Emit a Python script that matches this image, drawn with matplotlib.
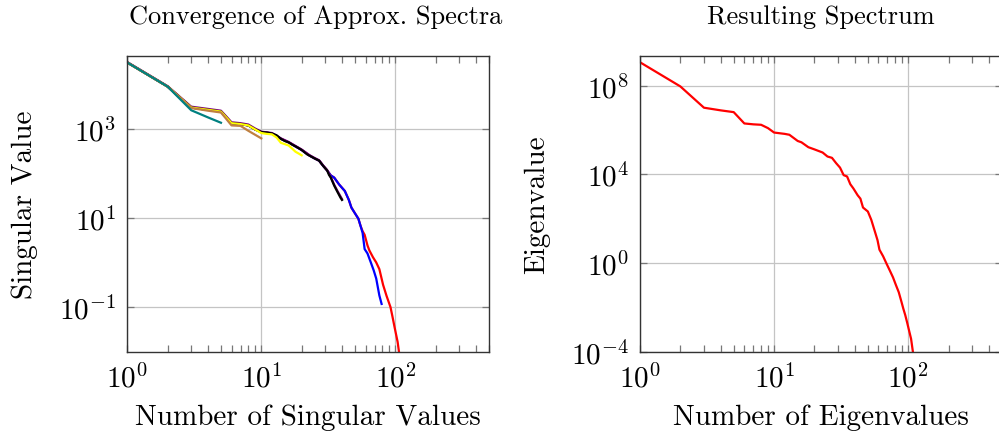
import matplotlib
matplotlib.use('Agg')
import matplotlib.pyplot as plt
from matplotlib.ticker import LogLocator, NullLocator, NullFormatter

# values, stored as log10 of the value
# left: approximate singular value spectra (index n, log10 sigma)
teal_n = [1, 2, 3, 4, 5]
teal_log = [4.48, 3.94, 3.41, 3.25, 3.13]

brown_n = [1, 2, 3, 4, 5, 6, 7, 8, 9, 10]
brown_log = [4.48, 3.94, 3.46, 3.40, 3.36, 3.07, 3.06, 2.95, 2.86, 2.78]

yellow_n = [1, 2, 3, 4, 5, 6, 7, 8, 9, 10, 11, 12, 13, 14, 15, 16, 17, 18, 19, 20]
yellow_log = [4.48, 3.94, 3.47, 3.42, 3.38, 3.12, 3.10, 3.07, 2.98, 2.90,
              2.88, 2.87, 2.80, 2.68, 2.65, 2.62, 2.55, 2.48, 2.44, 2.40]

black_n = [1, 2, 3, 4, 5, 6, 7, 8, 9, 10, 11, 12, 13, 14, 15, 16, 17, 18, 19, 20,
           22, 23, 25, 27, 29, 31, 32, 33, 35, 37, 39, 40]
black_log = [4.48, 3.94, 3.47, 3.42, 3.38, 3.12, 3.10, 3.07, 2.98, 2.92,
             2.91, 2.89, 2.85, 2.77, 2.72, 2.69, 2.64, 2.60, 2.56, 2.52,
             2.42, 2.39, 2.33, 2.28, 2.16, 2.06, 1.96, 1.90, 1.72, 1.58, 1.45, 1.40]

violet_n = [1, 2, 3, 4, 5, 6, 7, 8, 9, 10, 12, 14, 16, 18, 20, 23, 25, 27, 29, 31, 33, 35, 37, 40]
violet_log = [4.49, 3.95, 3.49, 3.44, 3.40, 3.14, 3.12, 3.09, 3.00, 2.93,
              2.90, 2.78, 2.70, 2.61, 2.53, 2.40, 2.34, 2.29, 2.17, 2.07, 1.91, 1.74, 1.60, 1.42]

blue_n = [1, 2, 3, 4, 5, 6, 7, 8, 9, 10, 12, 14, 16, 18, 20, 23, 25, 27, 29, 31, 33,
          35, 38, 42, 45, 47, 50, 53, 55, 57, 59, 62, 66, 69, 72, 76, 79]
blue_log = [4.48, 3.94, 3.47, 3.42, 3.38, 3.12, 3.10, 3.07, 2.98, 2.92,
            2.89, 2.77, 2.69, 2.60, 2.52, 2.39, 2.33, 2.28, 2.16, 2.06, 1.95,
            1.90, 1.75, 1.60, 1.40, 1.23, 1.10, 0.98, 0.82, 0.66, 0.30, 0.20, -0.02,
            -0.18, -0.36, -0.74, -0.93]

red_sv_n = [1, 2, 3, 4, 5, 6, 7, 8, 9, 10, 12, 14, 16, 18, 20, 23, 25, 27, 29, 31, 33,
            35, 38, 42, 45, 47, 50, 53, 55, 57, 59, 62, 64, 68, 72, 76, 81, 86, 92,
            95, 99, 104, 107, 112]
red_sv_log = [4.48, 3.94, 3.47, 3.42, 3.38, 3.12, 3.10, 3.07, 2.98, 2.92,
              2.89, 2.77, 2.69, 2.60, 2.52, 2.39, 2.33, 2.28, 2.16, 2.06, 1.95,
              1.90, 1.75, 1.60, 1.40, 1.23, 1.10, 0.98, 0.82, 0.70, 0.62, 0.38, 0.27,
              0.12, 0.0, -0.15, -0.50, -0.75, -1.0, -1.2, -1.47, -1.78, -2.05, -2.4]

# right: resulting eigenvalue spectrum (index n, log10 lambda)
eig_n = [1, 2, 3, 4, 5, 6, 7, 8, 9, 10, 12, 13, 15, 16, 18, 20, 23, 25, 27, 29,
         31, 33, 35, 37, 39, 42, 44, 46, 50, 53, 56, 59, 61, 65, 69, 73, 77, 81,
         85, 89, 92, 95, 98, 101, 105, 108, 112]
eig_log = [9.05, 7.96, 7.00, 6.88, 6.80, 6.29, 6.25, 6.23, 6.08, 5.88, 5.82, 5.78,
           5.50, 5.44, 5.22, 5.12, 4.98, 4.80, 4.74, 4.50, 4.30, 3.96, 3.90, 3.55,
           3.36, 3.05, 2.90, 2.50, 2.32, 1.95, 1.48, 1.03, 0.60, 0.30, -0.04, -0.35,
           -0.65, -1.00, -1.32, -1.75, -2.07, -2.35, -2.67, -3.00, -3.42, -3.95, -4.6]

plt.rcParams['font.family'] = 'cmr10'
plt.rcParams['mathtext.fontset'] = 'cm'
plt.rcParams['axes.formatter.use_mathtext'] = True
plt.rcParams['font.size'] = 21

fig = plt.figure(figsize=(9.99, 4.39), dpi=100)
ax1 = fig.add_axes([0.1274, 0.1966, 0.3621, 0.673])
ax2 = fig.add_axes([0.6406, 0.1966, 0.3624, 0.673])

lw = 1.6
ax1.plot(red_sv_n, [10**v for v in red_sv_log], color='red', lw=lw)
ax1.plot(blue_n, [10**v for v in blue_log], color='blue', lw=lw)
ax1.plot(violet_n, [10**v for v in violet_log], color='#800080', lw=lw)
ax1.plot(black_n, [10**v for v in black_log], color='black', lw=lw)
ax1.plot(yellow_n, [10**v for v in yellow_log], color='yellow', lw=lw)
ax1.plot(brown_n, [10**v for v in brown_log], color='#bf8040', lw=lw)
ax1.plot(teal_n, [10**v for v in teal_log], color='teal', lw=lw)

ax2.plot(eig_n, [10**v for v in eig_log], color='red', lw=lw)

for ax in (ax1, ax2):
    ax.set_xscale('log')
    ax.set_yscale('log')
    ax.set_xlim(1, 500)
    ax.set_xticks([1, 10, 100])
    ax.xaxis.set_minor_locator(LogLocator(base=10, subs=range(2, 10)))
    ax.xaxis.set_minor_formatter(NullFormatter())
    ax.yaxis.set_minor_locator(NullLocator())
    ax.grid(True, which='major', color='#c4c4c4', lw=0.9)
    ax.set_axisbelow(True)
    ax.tick_params(which='both', direction='in', top=True, right=True,
                   color='#777777', width=0.9)
    ax.tick_params(which='major', length=5, pad=8)
    ax.tick_params(which='minor', length=5)
    for s in ax.spines.values():
        s.set_color('#333333')
        s.set_linewidth(1.0)

ax1.set_ylim(1e-2, 10**4.62)
ax1.set_yticks([1e-1, 1e1, 1e3])
ax1.set_title('Convergence of Approx. Spectra', fontsize=19, pad=24, x=0.52)
ax1.set_xlabel('Number of Singular Values', labelpad=8)
ax1.set_ylabel('Singular Value', labelpad=15)

ax2.set_ylim(1e-4, 10**9.32)
ax2.set_yticks([1e-4, 1e0, 1e4, 1e8])
ax2.set_title('Resulting Spectrum', fontsize=19, pad=24)
ax2.set_xlabel('Number of Eigenvalues', labelpad=8)
ax2.set_ylabel('Eigenvalue', labelpad=15)

fig.savefig('out.png', dpi=100)
